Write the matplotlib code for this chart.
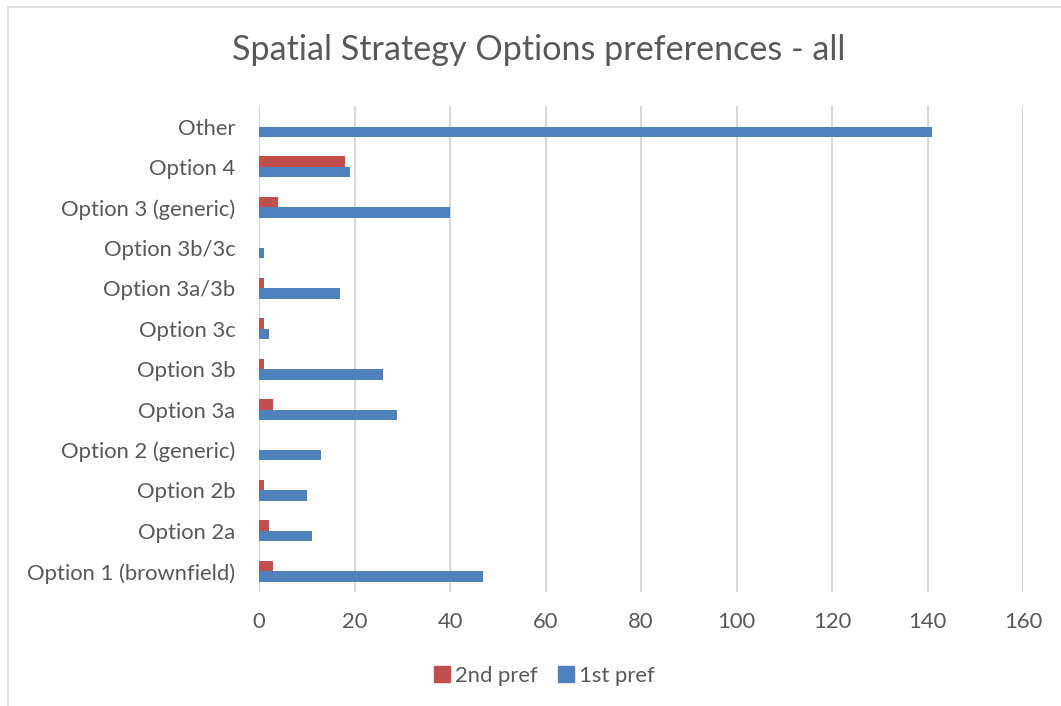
import matplotlib
matplotlib.use("Agg")
import matplotlib.pyplot as plt
import numpy as np
from matplotlib.lines import Line2D

categories = ["Option 1 (brownfield)", "Option 2a", "Option 2b", "Option 2 (generic)",
              "Option 3a", "Option 3b", "Option 3c", "Option 3a/3b", "Option 3b/3c",
              "Option 3 (generic)", "Option 4", "Other"]
first_pref = [47, 11, 10, 13, 29, 26, 2, 17, 1, 40, 19, 141]
second_pref = [3, 2, 1, 0, 3, 1, 1, 1, 0, 4, 18, 0]
xticks = [0, 20, 40, 60, 80, 100, 120, 140, 160]

RED = "#c0504d"
BLUE = "#4f81bd"
GRAY = "#595959"
FONT = "Lato"
FS = 15.8

W, H = 1061, 706
fig = plt.figure(figsize=(W / 100, H / 100), dpi=100)
ax = fig.add_axes([259 / W, 1 - 591.5 / H, (1023 - 259) / W, (591.5 - 106.3) / H])

y = np.arange(len(categories))
bh = 0.26
ax.barh(y - bh / 2, first_pref, height=bh, color=BLUE, label="1st pref", zorder=3)
ax.barh(y + bh / 2, second_pref, height=bh, color=RED, label="2nd pref", zorder=3)

ax.set_xlim(0, 160)
ax.set_ylim(-0.5, len(categories) - 0.5)
ax.set_xticks(xticks)
ax.set_xticklabels([str(t) for t in xticks], fontsize=FS, color=GRAY, family=FONT)
ax.set_yticks(y)
ax.set_yticklabels(categories, fontsize=FS, color=GRAY, family=FONT)
ax.tick_params(axis="both", length=0)
ax.tick_params(axis="x", pad=15)
ax.tick_params(axis="y", pad=17)
ax.grid(axis="x", color="#d9d9d9", linewidth=1.5, zorder=0)
for s in ax.spines.values():
    s.set_visible(False)

fig.text(539 / W, 1 - 50 / H, "Spatial Strategy Options preferences - all",
         ha="center", va="center", fontsize=24.6, color=GRAY, family=FONT)

handles = [Line2D([], [], marker="s", linestyle="none", markersize=11, color=RED),
           Line2D([], [], marker="s", linestyle="none", markersize=11, color=BLUE)]
fig.legend(handles, ["2nd pref", "1st pref"], loc="center", ncol=2,
           bbox_to_anchor=(543.5 / W, 1 - 676 / H), frameon=False,
           prop={"family": FONT, "size": FS}, labelcolor=GRAY,
           handletextpad=0.15, columnspacing=0.85, handlelength=0.9)

# chart border (top and left visible)
fig.add_artist(Line2D([8 / W, 8 / W, 1.0], [0.0, 1 - 7 / H, 1 - 7 / H],
                      transform=fig.transFigure, color="#d9d9d9", linewidth=1.2))

fig.savefig("out.png", dpi=100, facecolor="white")
